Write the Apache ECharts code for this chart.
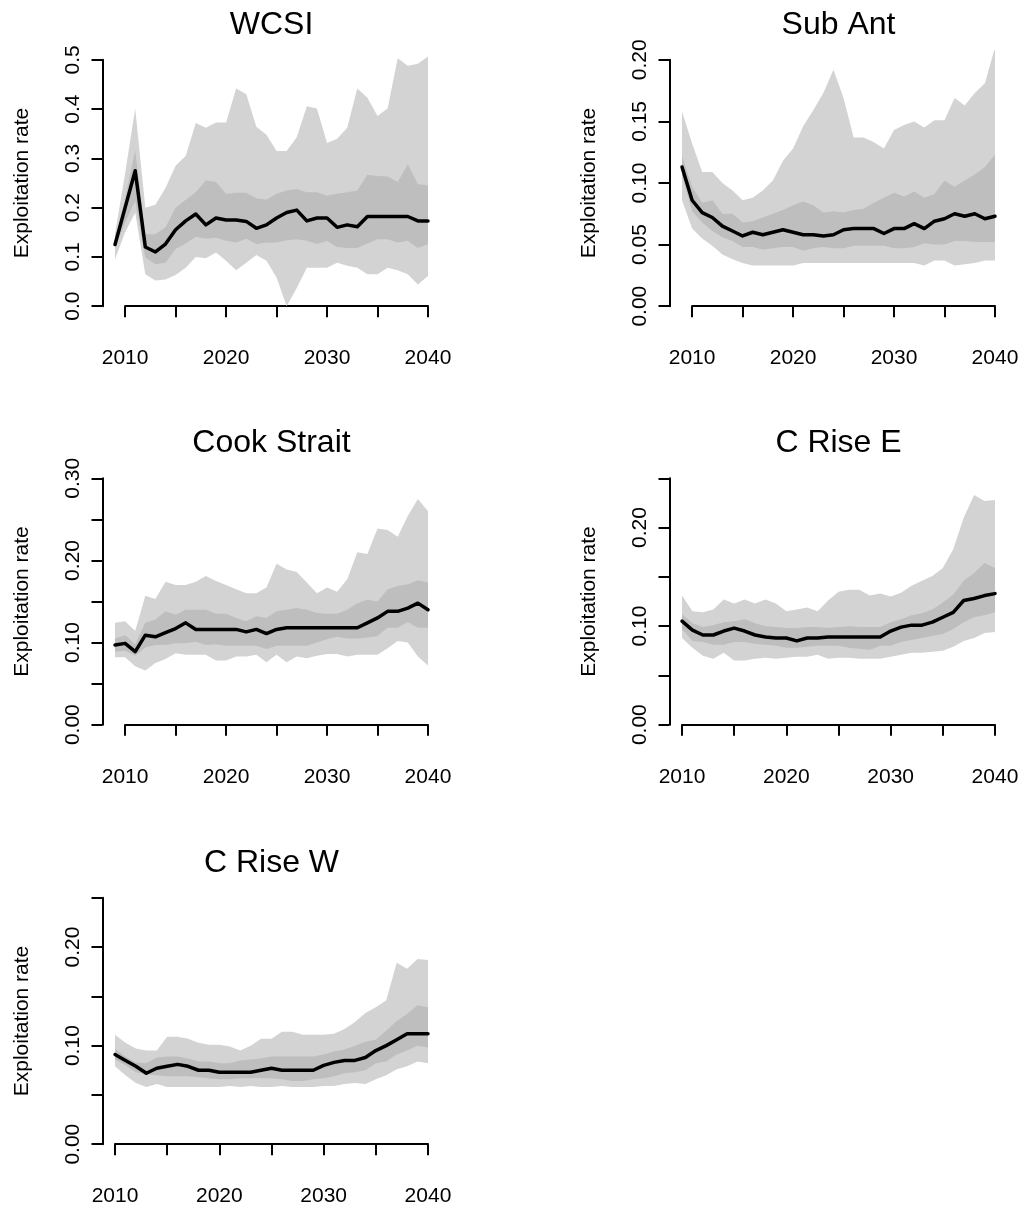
<!DOCTYPE html>
<html>
<head>
<meta charset="utf-8">
<script src="https://cdn.jsdelivr.net/npm/echarts@6/dist/echarts.min.js"></script>
<style>
  html, body { margin: 0; padding: 0; background: #fff; }
  #chart { width: 1024px; height: 1212px; }
</style>
</head>
<body>
<div id="chart"></div>
<script>
// years on the x axis
const years09 = [2009, 2010, 2011, 2012, 2013, 2014, 2015, 2016, 2017, 2018, 2019, 2020, 2021, 2022, 2023, 2024,
  2025, 2026, 2027, 2028, 2029, 2030, 2031, 2032, 2033, 2034, 2035, 2036, 2037, 2038, 2039, 2040];
const years10 = [2010, 2011, 2012, 2013, 2014, 2015, 2016, 2017, 2018, 2019, 2020, 2021, 2022, 2023, 2024,
  2025, 2026, 2027, 2028, 2029, 2030, 2031, 2032, 2033, 2034, 2035, 2036, 2037, 2038, 2039, 2040];

// WCSI
const wcsiMedian = [0.125, 0.2, 0.275, 0.12, 0.11, 0.126, 0.155, 0.173, 0.187, 0.165, 0.179, 0.175, 0.175, 0.172, 0.158, 0.165,
  0.179, 0.19, 0.195, 0.173, 0.179, 0.179, 0.16, 0.165, 0.161, 0.182, 0.182, 0.182, 0.182, 0.182, 0.173, 0.173];
const wcsiOuterHi = [0.146, 0.27, 0.401, 0.2, 0.206, 0.24, 0.285, 0.305, 0.372, 0.362, 0.373, 0.373, 0.442, 0.43, 0.364, 0.348,
  0.315, 0.315, 0.343, 0.406, 0.401, 0.331, 0.34, 0.362, 0.442, 0.423, 0.386, 0.401, 0.503, 0.488, 0.492, 0.507];
const wcsiOuterLo = [0.095, 0.15, 0.19, 0.065, 0.052, 0.054, 0.063, 0.078, 0.1, 0.097, 0.109, 0.092, 0.073, 0.088, 0.104, 0.092,
  0.058, 0.0, 0.037, 0.078, 0.078, 0.078, 0.088, 0.082, 0.078, 0.065, 0.065, 0.078, 0.073, 0.065, 0.044, 0.061];
const wcsiInnerHi = [0.133, 0.22, 0.316, 0.146, 0.146, 0.16, 0.2, 0.216, 0.231, 0.255, 0.252, 0.228, 0.23, 0.23, 0.219, 0.216,
  0.228, 0.235, 0.238, 0.231, 0.231, 0.224, 0.228, 0.231, 0.235, 0.267, 0.264, 0.263, 0.252, 0.288, 0.248, 0.245];
const wcsiInnerLo = [0.118, 0.17, 0.214, 0.099, 0.085, 0.088, 0.116, 0.127, 0.141, 0.137, 0.139, 0.133, 0.129, 0.137, 0.126, 0.129,
  0.129, 0.134, 0.136, 0.133, 0.126, 0.133, 0.12, 0.118, 0.118, 0.127, 0.136, 0.136, 0.129, 0.133, 0.118, 0.126];

// Sub Ant
const subAntMedian = [0.113, 0.086, 0.076, 0.072, 0.065, 0.061, 0.057, 0.06, 0.058, 0.06, 0.062, 0.06, 0.058, 0.058, 0.057, 0.058,
  0.062, 0.063, 0.063, 0.063, 0.059, 0.063, 0.063, 0.067, 0.063, 0.069, 0.071, 0.075, 0.073, 0.075, 0.071, 0.073];
const subAntOuterHi = [0.158, 0.132, 0.109, 0.109, 0.1, 0.094, 0.086, 0.088, 0.094, 0.102, 0.118, 0.128, 0.146, 0.159, 0.173, 0.192,
  0.169, 0.137, 0.137, 0.133, 0.128, 0.143, 0.147, 0.15, 0.145, 0.151, 0.151, 0.169, 0.163, 0.173, 0.181, 0.21];
const subAntOuterLo = [0.086, 0.063, 0.055, 0.049, 0.042, 0.038, 0.035, 0.033, 0.033, 0.033, 0.033, 0.033, 0.035, 0.035, 0.035, 0.035,
  0.035, 0.035, 0.035, 0.035, 0.035, 0.035, 0.035, 0.035, 0.033, 0.037, 0.037, 0.033, 0.034, 0.035, 0.037, 0.037];
const subAntInnerHi = [0.122, 0.097, 0.084, 0.086, 0.075, 0.075, 0.068, 0.069, 0.072, 0.075, 0.078, 0.082, 0.085, 0.082, 0.076, 0.077,
  0.076, 0.078, 0.079, 0.084, 0.088, 0.092, 0.089, 0.093, 0.088, 0.091, 0.102, 0.097, 0.102, 0.107, 0.113, 0.123];
const subAntInnerLo = [0.106, 0.077, 0.068, 0.061, 0.056, 0.053, 0.048, 0.048, 0.046, 0.047, 0.048, 0.048, 0.045, 0.047, 0.048, 0.047,
  0.047, 0.049, 0.049, 0.049, 0.049, 0.047, 0.047, 0.048, 0.051, 0.05, 0.05, 0.053, 0.053, 0.052, 0.052, 0.052];

// Cook Strait
const cookMedian = [0.097, 0.099, 0.089, 0.109, 0.107, 0.112, 0.117, 0.124, 0.116, 0.116, 0.116, 0.116, 0.116, 0.113, 0.116, 0.111,
  0.116, 0.118, 0.118, 0.118, 0.118, 0.118, 0.118, 0.118, 0.118, 0.124, 0.13, 0.138, 0.138, 0.142, 0.148, 0.14];
const cookOuterHi = [0.124, 0.126, 0.114, 0.157, 0.153, 0.174, 0.17, 0.17, 0.174, 0.181, 0.175, 0.17, 0.165, 0.16, 0.16, 0.167,
  0.196, 0.189, 0.186, 0.173, 0.16, 0.167, 0.162, 0.177, 0.21, 0.208, 0.239, 0.237, 0.229, 0.254, 0.275, 0.26];
const cookOuterLo = [0.082, 0.082, 0.071, 0.066, 0.075, 0.08, 0.087, 0.085, 0.085, 0.085, 0.078, 0.078, 0.083, 0.083, 0.085, 0.076,
  0.085, 0.076, 0.083, 0.081, 0.084, 0.086, 0.086, 0.083, 0.085, 0.085, 0.085, 0.093, 0.102, 0.1, 0.083, 0.072];
const cookInnerHi = [0.105, 0.109, 0.098, 0.124, 0.128, 0.138, 0.134, 0.14, 0.14, 0.14, 0.135, 0.135, 0.13, 0.126, 0.132, 0.13,
  0.138, 0.14, 0.142, 0.14, 0.136, 0.135, 0.135, 0.14, 0.148, 0.152, 0.15, 0.165, 0.169, 0.171, 0.176, 0.173];
const cookInnerLo = [0.089, 0.09, 0.084, 0.094, 0.097, 0.097, 0.099, 0.099, 0.101, 0.097, 0.098, 0.096, 0.096, 0.096, 0.096, 0.092,
  0.096, 0.096, 0.096, 0.096, 0.1, 0.104, 0.107, 0.105, 0.105, 0.106, 0.108, 0.118, 0.118, 0.125, 0.118, 0.118];

// C Rise E
const riseEMedian = [0.105, 0.096, 0.091, 0.091, 0.095, 0.098, 0.095, 0.091, 0.089, 0.088, 0.088, 0.085, 0.088, 0.088, 0.089, 0.089,
  0.089, 0.089, 0.089, 0.089, 0.095, 0.099, 0.101, 0.101, 0.104, 0.109, 0.114, 0.126, 0.128, 0.131, 0.133];
const riseEOuterHi = [0.131, 0.115, 0.114, 0.117, 0.127, 0.123, 0.127, 0.123, 0.127, 0.123, 0.115, 0.117, 0.119, 0.115, 0.126, 0.135,
  0.137, 0.137, 0.131, 0.133, 0.13, 0.134, 0.141, 0.146, 0.151, 0.159, 0.178, 0.21, 0.233, 0.227, 0.228];
const riseEOuterLo = [0.088, 0.078, 0.07, 0.067, 0.073, 0.065, 0.065, 0.067, 0.068, 0.067, 0.068, 0.069, 0.069, 0.071, 0.067, 0.068,
  0.068, 0.067, 0.067, 0.067, 0.069, 0.071, 0.073, 0.073, 0.074, 0.075, 0.079, 0.085, 0.088, 0.093, 0.094];
const riseEInnerHi = [0.112, 0.103, 0.099, 0.101, 0.104, 0.105, 0.107, 0.103, 0.1, 0.099, 0.098, 0.098, 0.099, 0.099, 0.098, 0.099,
  0.1, 0.099, 0.099, 0.099, 0.104, 0.107, 0.111, 0.113, 0.117, 0.124, 0.132, 0.146, 0.154, 0.164, 0.159];
const riseEInnerLo = [0.097, 0.085, 0.084, 0.081, 0.081, 0.084, 0.084, 0.082, 0.081, 0.08, 0.078, 0.078, 0.079, 0.08, 0.08, 0.08,
  0.078, 0.077, 0.076, 0.08, 0.08, 0.084, 0.086, 0.088, 0.09, 0.092, 0.097, 0.104, 0.109, 0.111, 0.114];

// C Rise W
const riseWMedian = [0.091, 0.085, 0.079, 0.072, 0.077, 0.079, 0.081, 0.079, 0.075, 0.075, 0.073, 0.073, 0.073, 0.073, 0.075, 0.077,
  0.075, 0.075, 0.075, 0.075, 0.08, 0.083, 0.085, 0.085, 0.088, 0.095, 0.1, 0.106, 0.112, 0.112, 0.112];
const riseWOuterHi = [0.111, 0.103, 0.097, 0.095, 0.095, 0.109, 0.109, 0.107, 0.103, 0.101, 0.101, 0.099, 0.095, 0.1, 0.107, 0.107,
  0.114, 0.114, 0.111, 0.111, 0.111, 0.112, 0.117, 0.124, 0.133, 0.139, 0.146, 0.184, 0.178, 0.188, 0.187];
const riseWOuterLo = [0.079, 0.07, 0.062, 0.058, 0.061, 0.058, 0.058, 0.058, 0.058, 0.058, 0.058, 0.059, 0.058, 0.059, 0.058, 0.058,
  0.059, 0.058, 0.058, 0.058, 0.059, 0.059, 0.061, 0.062, 0.061, 0.066, 0.07, 0.076, 0.079, 0.084, 0.082];
const riseWInnerHi = [0.097, 0.089, 0.083, 0.082, 0.088, 0.089, 0.089, 0.087, 0.084, 0.084, 0.082, 0.082, 0.085, 0.086, 0.087, 0.089,
  0.089, 0.089, 0.089, 0.089, 0.091, 0.094, 0.096, 0.1, 0.104, 0.106, 0.115, 0.125, 0.132, 0.141, 0.139];
const riseWInnerLo = [0.086, 0.08, 0.073, 0.071, 0.07, 0.069, 0.069, 0.069, 0.068, 0.067, 0.066, 0.066, 0.067, 0.067, 0.067, 0.067,
  0.066, 0.064, 0.064, 0.066, 0.067, 0.069, 0.072, 0.073, 0.075, 0.082, 0.084, 0.091, 0.095, 0.1, 0.098];

// y axis ticks per panel: top of axis, tick step, step of the labelled ticks, decimals
const panels = [
  { title: "WCSI", years: years09, median: wcsiMedian, outer: [wcsiOuterLo, wcsiOuterHi], inner: [wcsiInnerLo, wcsiInnerHi],
    ymax: 0.5, step: 0.1, labelStep: 0.1, digits: 1 },
  { title: "Sub Ant", years: years09, median: subAntMedian, outer: [subAntOuterLo, subAntOuterHi], inner: [subAntInnerLo, subAntInnerHi],
    ymax: 0.2, step: 0.05, labelStep: 0.05, digits: 2 },
  { title: "Cook Strait", years: years09, median: cookMedian, outer: [cookOuterLo, cookOuterHi], inner: [cookInnerLo, cookInnerHi],
    ymax: 0.3, step: 0.05, labelStep: 0.1, digits: 2 },
  { title: "C Rise E", years: years10, median: riseEMedian, outer: [riseEOuterLo, riseEOuterHi], inner: [riseEInnerLo, riseEInnerHi],
    ymax: 0.25, step: 0.05, labelStep: 0.1, digits: 2 },
  { title: "C Rise W", years: years10, median: riseWMedian, outer: [riseWOuterLo, riseWOuterHi], inner: [riseWInnerLo, riseWInnerHi],
    ymax: 0.25, step: 0.05, labelStep: 0.1, digits: 2 }
];

// page layout (plot regions, like R's mfrow)
const FONT = "Liberation Sans, Arial, sans-serif";
const colLeft = [102.5, 669.5];
const rowTop = [50, 468.5, 888];
const PLOT_W = 338;
const PLOT_H = 266;
const OUTER = "#d3d3d3";
const INNER = "#bebebe";

function bandSeries(xi, years, lo, hi, color) {
  return {
    type: "custom",
    xAxisIndex: xi,
    yAxisIndex: xi,
    clip: true,
    silent: true,
    data: years.map((y, k) => [y, lo[k], hi[k]]),
    encode: { x: 0, y: [1, 2] },
    renderItem: function (params, api) {
      // one polygon for the whole band
      if (params.dataIndex !== 0) return null;
      const n = params.dataInsideLength;
      const pts = [];
      for (let k = 0; k < n; k++) pts.push(api.coord([api.value(0, k), api.value(2, k)]));
      for (let k = n - 1; k >= 0; k--) pts.push(api.coord([api.value(0, k), api.value(1, k)]));
      return { type: "polygon", shape: { points: pts }, style: { fill: color } };
    }
  };
}

function getOption() {
  const opt = { animation: false, backgroundColor: "#fff", title: [], grid: [], xAxis: [], yAxis: [], series: [] };
  const axisLine = { show: true, lineStyle: { color: "#000", width: 2 } };
  const axisTick = { show: true, length: 11, lineStyle: { color: "#000", width: 2 } };

  panels.forEach((p, i) => {
    const left = colLeft[i % 2];
    const top = rowTop[Math.floor(i / 2)];
    const x0 = p.years[0];
    const x1 = p.years[p.years.length - 1];
    const xpad = 0.04 * (x1 - x0);
    const ypad = 0.04 * p.ymax;
    const xmin = x0 - xpad;
    const xmax = x1 + xpad;
    const ppx = PLOT_W / (xmax - xmin);
    const ppy = PLOT_H / (p.ymax + 2 * ypad);

    // grid for the data (whole plot region)
    const gi = opt.grid.length;
    opt.grid.push({ left: left, top: top, width: PLOT_W, height: PLOT_H, outerBoundsMode: "none" });
    opt.xAxis.push({ gridIndex: gi, type: "value", min: xmin, max: xmax, show: false });
    opt.yAxis.push({ gridIndex: gi, type: "value", min: -ypad, max: p.ymax + ypad, show: false });

    // grid for the drawn axes (spans first..last tick only)
    const bl = left + (2010 - xmin) * ppx;
    const br = left + (2040 - xmin) * ppx;
    const bt = top + ypad * ppy;
    const bb = top + PLOT_H - ypad * ppy;
    opt.grid.push({ left: bl, top: bt, width: br - bl, height: bb - bt, outerBoundsMode: "none" });
    opt.xAxis.push({
      gridIndex: gi + 1, type: "value", min: 2010, max: 2040, interval: 5,
      offset: ypad * ppy,
      axisLine: axisLine, axisTick: axisTick, splitLine: { show: false },
      axisLabel: {
        margin: 32, fontSize: 21, color: "#000", fontFamily: FONT,
        formatter: v => (v % 10 === 0 ? String(v) : "")
      }
    });
    opt.yAxis.push({
      gridIndex: gi + 1, type: "value", min: 0, max: p.ymax, interval: p.step,
      offset: bl - left,
      axisLine: axisLine, axisTick: axisTick, splitLine: { show: false },
      axisLabel: {
        rotate: 90, margin: 19, fontSize: 21, color: "#000", fontFamily: FONT,
        formatter: v => {
          const r = Math.round(v / p.labelStep * 1000) / 1000;
          return Number.isInteger(r) ? v.toFixed(p.digits) : "";
        }
      },
      name: "Exploitation rate", nameLocation: "middle", nameRotate: 90, nameGap: 70,
      nameTextStyle: { fontSize: 21, color: "#000", fontFamily: FONT }
    });

    opt.title.push({
      text: p.title, left: left + PLOT_W / 2, top: top - 41, textAlign: "center", padding: 0,
      textStyle: { fontSize: 32, fontWeight: "normal", color: "#000", fontFamily: FONT }
    });

    opt.series.push(bandSeries(gi, p.years, p.outer[0], p.outer[1], OUTER));
    opt.series.push(bandSeries(gi, p.years, p.inner[0], p.inner[1], INNER));
    opt.series.push({
      type: "line", xAxisIndex: gi, yAxisIndex: gi, silent: true,
      data: p.years.map((y, k) => [y, p.median[k]]),
      symbol: "none", lineStyle: { color: "#000", width: 3.5, join: "round", cap: "round" }
    });
  });
  return opt;
}

const chart = echarts.init(document.getElementById("chart"), null, { renderer: "canvas" });
chart.setOption(getOption());
</script>
</body>
</html>
